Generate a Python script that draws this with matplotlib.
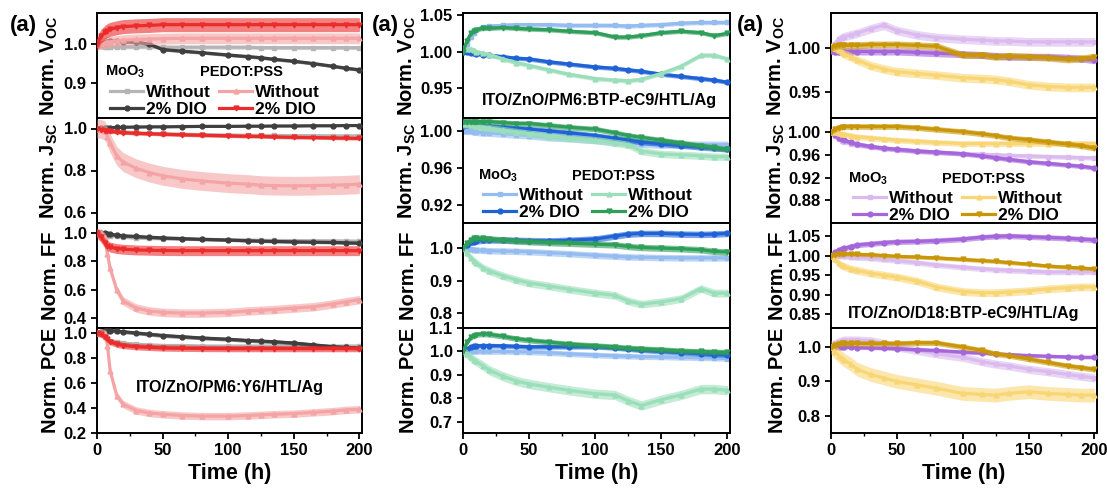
import matplotlib.pyplot as plt
from matplotlib.ticker import FormatStrFormatter, MultipleLocator

plt.rcParams['font.family'] = ['Liberation Sans', 'DejaVu Sans']
plt.rcParams['font.weight'] = 'bold'
plt.rcParams['axes.labelweight'] = 'bold'
plt.rcParams['mathtext.fontset'] = 'custom'
plt.rcParams['mathtext.rm'] = 'Liberation Sans:bold'
plt.rcParams['mathtext.it'] = 'Liberation Sans:bold'
plt.rcParams['mathtext.bf'] = 'Liberation Sans:bold'

# sampled time points (h)
hours = [0, 3, 6, 8, 10, 15, 20, 30, 40, 50, 65, 80, 100, 115, 125, 135, 150, 165, 180, 190, 200]

# ---- ITO/ZnO/PM6:Y6/HTL/Ag ----
y6_voc_moo3_wo = [1.0, 0.995, 0.993, 0.993, 0.993, 0.993, 0.993, 0.993, 0.993, 0.992, 0.992, 0.992, 0.992, 0.992, 0.991, 0.991, 0.991, 0.991, 0.991, 0.991, 0.991]
y6_voc_moo3_dio = [1.0, 1.0, 1.003, 1.005, 1.007, 1.008, 1.006, 1.005, 1.0, 0.986, 0.982, 0.978, 0.972, 0.968, 0.965, 0.961, 0.956, 0.950, 0.943, 0.938, 0.934]
y6_voc_pedot_wo = [1.0, 1.0, 1.003, 1.005, 1.006, 1.008, 1.01, 1.012, 1.013, 1.014, 1.015, 1.015, 1.015, 1.015, 1.015, 1.015, 1.015, 1.015, 1.015, 1.015, 1.015]
y6_voc_pedot_dio = [1.0, 1.02, 1.03, 1.035, 1.038, 1.042, 1.045, 1.047, 1.048, 1.05, 1.05, 1.05, 1.05, 1.05, 1.05, 1.05, 1.05, 1.05, 1.05, 1.05, 1.05]
y6_voc_err = [0.005, 0.004, 0.014, 0.018]

y6_jsc_moo3_wo = [1.0, 0.998, 0.995, 0.993, 0.99, 0.987, 0.984, 0.98, 0.977, 0.975, 0.973, 0.971, 0.969, 0.968, 0.967, 0.967, 0.966, 0.966, 0.965, 0.965, 0.965]
y6_jsc_moo3_dio = [1.0, 1.002, 1.003, 1.004, 1.004, 1.005, 1.006, 1.007, 1.008, 1.008, 1.009, 1.01, 1.01, 1.011, 1.011, 1.012, 1.012, 1.013, 1.013, 1.014, 1.014]
y6_jsc_pedot_wo = [1.0, 0.998, 0.99, 0.96, 0.93, 0.87, 0.84, 0.81, 0.79, 0.775, 0.76, 0.75, 0.74, 0.735, 0.73, 0.728, 0.727, 0.728, 0.73, 0.732, 0.735]
y6_jsc_pedot_dio = [1.0, 0.995, 0.99, 0.988, 0.986, 0.983, 0.98, 0.977, 0.975, 0.973, 0.97, 0.968, 0.965, 0.963, 0.962, 0.96, 0.958, 0.957, 0.955, 0.954, 0.953]
y6_jsc_err = [0.005, 0.004, 0.045, 0.008]

y6_ff_moo3_wo = [1.0, 0.995, 0.99, 0.985, 0.98, 0.975, 0.97, 0.965, 0.962, 0.96, 0.957, 0.955, 0.952, 0.95, 0.948, 0.947, 0.946, 0.945, 0.944, 0.943, 0.942]
y6_ff_moo3_dio = [1.0, 1.0, 0.998, 0.995, 0.99, 0.985, 0.98, 0.975, 0.97, 0.965, 0.96, 0.955, 0.95, 0.945, 0.942, 0.94, 0.937, 0.935, 0.933, 0.93, 0.928]
y6_ff_pedot_wo = [1.0, 1.0, 0.97, 0.85, 0.75, 0.6, 0.52, 0.47, 0.45, 0.44, 0.435, 0.435, 0.44, 0.45, 0.455, 0.46, 0.47, 0.48, 0.5, 0.515, 0.53]
y6_ff_pedot_dio = [1.0, 0.97, 0.93, 0.91, 0.9, 0.89, 0.885, 0.88, 0.878, 0.876, 0.875, 0.875, 0.875, 0.875, 0.875, 0.875, 0.875, 0.875, 0.875, 0.875, 0.875]
y6_ff_err = [0.01, 0.01, 0.03, 0.035]

y6_pce_moo3_wo = [1.0, 0.99, 0.97, 0.95, 0.94, 0.93, 0.92, 0.91, 0.905, 0.9, 0.9, 0.895, 0.895, 0.895, 0.895, 0.895, 0.895, 0.895, 0.895, 0.895, 0.895]
y6_pce_moo3_dio = [1.0, 1.01, 1.02, 1.02, 1.02, 1.015, 1.01, 1.0, 0.99, 0.98, 0.97, 0.96, 0.95, 0.94, 0.935, 0.93, 0.92, 0.905, 0.89, 0.885, 0.88]
y6_pce_pedot_wo = [1.0, 1.0, 1.0, 0.9, 0.7, 0.5, 0.43, 0.38, 0.36, 0.35, 0.34, 0.335, 0.335, 0.34, 0.345, 0.35, 0.355, 0.365, 0.375, 0.385, 0.39]
y6_pce_pedot_dio = [1.0, 0.99, 0.97, 0.95, 0.93, 0.91, 0.9, 0.89, 0.885, 0.88, 0.878, 0.876, 0.875, 0.875, 0.875, 0.875, 0.875, 0.875, 0.875, 0.875, 0.875]
y6_pce_err = [0.015, 0.015, 0.03, 0.025]

# ---- ITO/ZnO/PM6:BTP-eC9/HTL/Ag ----
ec9_voc_moo3_wo = [1.0, 1.01, 1.02, 1.025, 1.03, 1.034, 1.035, 1.036, 1.037, 1.037, 1.037, 1.036, 1.036, 1.036, 1.035, 1.036, 1.037, 1.039, 1.04, 1.04, 1.04]
ec9_voc_moo3_dio = [1.0, 0.999, 0.998, 0.998, 0.997, 0.996, 0.995, 0.993, 0.991, 0.99, 0.986, 0.983, 0.979, 0.977, 0.975, 0.973, 0.969, 0.966, 0.963, 0.961, 0.958]
ec9_voc_pedot_wo = [1.005, 1.004, 1.003, 1.002, 1.0, 0.998, 0.996, 0.99, 0.985, 0.981, 0.975, 0.969, 0.963, 0.961, 0.96, 0.962, 0.97, 0.98, 0.995, 0.995, 0.99]
ec9_voc_pedot_dio = [1.0, 1.015, 1.025, 1.028, 1.03, 1.032, 1.032, 1.033, 1.032, 1.031, 1.03, 1.028, 1.026, 1.02, 1.02, 1.022, 1.026, 1.028, 1.026, 1.022, 1.025]
ec9_voc_err = [0.003, 0.003, 0.003, 0.003]

ec9_jsc_moo3_wo = [1.0, 1.0, 1.0, 0.999, 0.999, 0.998, 0.998, 0.997, 0.996, 0.995, 0.993, 0.992, 0.99, 0.988, 0.987, 0.986, 0.985, 0.985, 0.985, 0.985, 0.985]
ec9_jsc_moo3_dio = [1.005, 1.006, 1.006, 1.006, 1.006, 1.006, 1.005, 1.004, 1.003, 1.002, 1.0, 0.998, 0.995, 0.992, 0.99, 0.988, 0.986, 0.984, 0.982, 0.981, 0.98]
ec9_jsc_pedot_wo = [1.007, 1.007, 1.006, 1.006, 1.005, 1.004, 1.003, 1.001, 0.999, 0.997, 0.994, 0.992, 0.99, 0.987, 0.985, 0.978, 0.975, 0.974, 0.973, 0.972, 0.972]
ec9_jsc_pedot_dio = [1.01, 1.01, 1.01, 1.01, 1.01, 1.01, 1.01, 1.009, 1.008, 1.008, 1.006, 1.004, 1.002, 0.998, 0.995, 0.993, 0.99, 0.987, 0.984, 0.982, 0.98]
ec9_jsc_err = [0.004, 0.003, 0.004, 0.003]

ec9_ff_moo3_wo = [1.0, 0.998, 0.996, 0.995, 0.994, 0.993, 0.992, 0.991, 0.99, 0.989, 0.986, 0.983, 0.978, 0.975, 0.973, 0.972, 0.971, 0.97, 0.97, 0.97, 0.97]
ec9_ff_moo3_dio = [1.0, 1.01, 1.018, 1.02, 1.022, 1.024, 1.025, 1.025, 1.024, 1.023, 1.022, 1.024, 1.028, 1.037, 1.043, 1.045, 1.045, 1.043, 1.042, 1.043, 1.045]
ec9_ff_pedot_wo = [1.0, 0.985, 0.97, 0.962, 0.955, 0.94, 0.93, 0.915, 0.903, 0.893, 0.884, 0.874, 0.862, 0.855, 0.838, 0.828, 0.835, 0.845, 0.876, 0.862, 0.862]
ec9_ff_pedot_dio = [1.0, 1.015, 1.025, 1.03, 1.03, 1.03, 1.028, 1.025, 1.022, 1.02, 1.017, 1.015, 1.012, 1.01, 1.005, 1.002, 1.0, 0.998, 0.995, 0.99, 0.988]
ec9_ff_err = [0.01, 0.01, 0.012, 0.01]

ec9_pce_moo3_wo = [1.0, 1.0, 1.0, 1.0, 1.0, 1.0, 1.0, 1.0, 0.999, 0.998, 0.995, 0.99, 0.985, 0.982, 0.98, 0.978, 0.977, 0.975, 0.973, 0.972, 0.97]
ec9_pce_moo3_dio = [1.0, 1.01, 1.02, 1.022, 1.024, 1.025, 1.025, 1.024, 1.022, 1.02, 1.02, 1.02, 1.02, 1.015, 1.01, 1.005, 1.0, 0.995, 0.99, 0.987, 0.985]
ec9_pce_pedot_wo = [1.0, 0.99, 0.975, 0.965, 0.958, 0.94, 0.92, 0.895, 0.875, 0.862, 0.848, 0.835, 0.82, 0.815, 0.79, 0.77, 0.795, 0.815, 0.84, 0.84, 0.835]
ec9_pce_pedot_dio = [1.0, 1.04, 1.06, 1.068, 1.072, 1.075, 1.073, 1.065, 1.055, 1.048, 1.04, 1.032, 1.025, 1.02, 1.015, 1.012, 1.008, 1.003, 1.0, 0.998, 0.997]
ec9_pce_err = [0.012, 0.01, 0.02, 0.012]

# ---- ITO/ZnO/D18:BTP-eC9/HTL/Ag ----
d18_voc_moo3_wo = [1.0, 1.005, 1.01, 1.012, 1.013, 1.015, 1.017, 1.022, 1.026, 1.02, 1.015, 1.012, 1.01, 1.009, 1.008, 1.008, 1.007, 1.007, 1.007, 1.007, 1.007]
d18_voc_moo3_dio = [0.997, 0.996, 0.996, 0.996, 0.996, 0.996, 0.996, 0.996, 0.996, 0.996, 0.995, 0.994, 0.993, 0.992, 0.991, 0.99, 0.99, 0.99, 0.989, 0.988, 0.986]
d18_voc_pedot_wo = [1.002, 1.0, 0.998, 0.995, 0.993, 0.99, 0.986, 0.98, 0.976, 0.973, 0.971, 0.969, 0.966, 0.965, 0.964, 0.962, 0.958, 0.956, 0.955, 0.955, 0.955]
d18_voc_pedot_dio = [1.0, 1.002, 1.003, 1.003, 1.003, 1.003, 1.003, 1.004, 1.004, 1.004, 1.003, 1.002, 0.992, 0.992, 0.99, 0.991, 0.99, 0.989, 0.987, 0.988, 0.99]
d18_voc_err = [0.005, 0.004, 0.005, 0.004]

d18_jsc_moo3_wo = [1.0, 0.993, 0.988, 0.985, 0.983, 0.98, 0.977, 0.974, 0.971, 0.969, 0.966, 0.964, 0.962, 0.961, 0.96, 0.959, 0.958, 0.957, 0.956, 0.955, 0.955]
d18_jsc_moo3_dio = [1.0, 0.995, 0.99, 0.988, 0.986, 0.982, 0.979, 0.975, 0.972, 0.97, 0.967, 0.965, 0.962, 0.958, 0.955, 0.952, 0.948, 0.945, 0.942, 0.94, 0.937]
d18_jsc_pedot_wo = [1.0, 1.0, 0.998, 0.997, 0.996, 0.994, 0.992, 0.99, 0.988, 0.986, 0.984, 0.982, 0.98, 0.98, 0.98, 0.98, 0.98, 0.98, 0.98, 0.98, 0.98]
d18_jsc_pedot_dio = [1.0, 1.005, 1.008, 1.009, 1.01, 1.01, 1.01, 1.01, 1.01, 1.01, 1.008, 1.005, 1.001, 0.997, 0.994, 0.99, 0.987, 0.983, 0.979, 0.976, 0.972]
d18_jsc_err = [0.004, 0.004, 0.005, 0.005]

d18_ff_moo3_wo = [1.0, 1.0, 1.0, 1.0, 0.998, 0.996, 0.995, 0.993, 0.99, 0.987, 0.982, 0.976, 0.97, 0.966, 0.964, 0.962, 0.96, 0.958, 0.958, 0.958, 0.958]
d18_ff_moo3_dio = [1.0, 1.008, 1.013, 1.016, 1.018, 1.023, 1.027, 1.03, 1.033, 1.035, 1.036, 1.038, 1.042, 1.047, 1.049, 1.05, 1.048, 1.046, 1.044, 1.042, 1.04]
d18_ff_pedot_wo = [1.0, 0.99, 0.98, 0.975, 0.972, 0.966, 0.962, 0.955, 0.95, 0.945, 0.935, 0.92, 0.908, 0.905, 0.905, 0.907, 0.91, 0.915, 0.918, 0.92, 0.92]
d18_ff_pedot_dio = [1.0, 1.002, 1.003, 1.004, 1.004, 1.004, 1.003, 1.002, 1.0, 0.998, 0.996, 0.994, 0.99, 0.987, 0.985, 0.982, 0.978, 0.973, 0.97, 0.968, 0.966]
d18_ff_err = [0.007, 0.007, 0.01, 0.005]

d18_pce_moo3_wo = [1.0, 1.01, 1.015, 1.018, 1.02, 1.02, 1.02, 1.018, 1.01, 1.0, 0.99, 0.98, 0.97, 0.957, 0.95, 0.945, 0.935, 0.928, 0.92, 0.915, 0.91]
d18_pce_moo3_dio = [1.0, 1.0, 1.0, 1.0, 1.0, 0.999, 0.998, 0.997, 0.996, 0.995, 0.992, 0.99, 0.985, 0.982, 0.98, 0.978, 0.975, 0.973, 0.971, 0.97, 0.97]
d18_pce_pedot_wo = [1.0, 0.985, 0.975, 0.968, 0.962, 0.95, 0.935, 0.92, 0.91, 0.9, 0.89, 0.88, 0.865, 0.862, 0.86, 0.865, 0.87, 0.865, 0.862, 0.86, 0.86]
d18_pce_pedot_dio = [1.0, 1.005, 1.008, 1.01, 1.01, 1.01, 1.01, 1.01, 1.01, 1.01, 1.012, 1.012, 1.0, 0.99, 0.98, 0.975, 0.965, 0.955, 0.945, 0.94, 0.935]
d18_pce_err = [0.012, 0.005, 0.02, 0.008]

series_labels = ['Without', '2% DIO', 'Without', '2% DIO']
markers = ['s', 'o', '^', 'v']
ylabels = ['Norm. V$_{OC}$', 'Norm. J$_{SC}$', 'Norm. FF', 'Norm. PCE']

y6_colors = ['#b5b5b5', '#3f3f3f', '#f4a4a4', '#ec2b2b']
ec9_colors = ['#94bcf0', '#1f62d6', '#9bdfba', '#2e9e5a']
d18_colors = ['#dbbbef', '#a566dc', '#f9d675', '#c99608']

y6_panels = [
    ([y6_voc_moo3_wo, y6_voc_moo3_dio, y6_voc_pedot_wo, y6_voc_pedot_dio], y6_voc_err),
    ([y6_jsc_moo3_wo, y6_jsc_moo3_dio, y6_jsc_pedot_wo, y6_jsc_pedot_dio], y6_jsc_err),
    ([y6_ff_moo3_wo, y6_ff_moo3_dio, y6_ff_pedot_wo, y6_ff_pedot_dio], y6_ff_err),
    ([y6_pce_moo3_wo, y6_pce_moo3_dio, y6_pce_pedot_wo, y6_pce_pedot_dio], y6_pce_err),
]
ec9_panels = [
    ([ec9_voc_moo3_wo, ec9_voc_moo3_dio, ec9_voc_pedot_wo, ec9_voc_pedot_dio], ec9_voc_err),
    ([ec9_jsc_moo3_wo, ec9_jsc_moo3_dio, ec9_jsc_pedot_wo, ec9_jsc_pedot_dio], ec9_jsc_err),
    ([ec9_ff_moo3_wo, ec9_ff_moo3_dio, ec9_ff_pedot_wo, ec9_ff_pedot_dio], ec9_ff_err),
    ([ec9_pce_moo3_wo, ec9_pce_moo3_dio, ec9_pce_pedot_wo, ec9_pce_pedot_dio], ec9_pce_err),
]
d18_panels = [
    ([d18_voc_moo3_wo, d18_voc_moo3_dio, d18_voc_pedot_wo, d18_voc_pedot_dio], d18_voc_err),
    ([d18_jsc_moo3_wo, d18_jsc_moo3_dio, d18_jsc_pedot_wo, d18_jsc_pedot_dio], d18_jsc_err),
    ([d18_ff_moo3_wo, d18_ff_moo3_dio, d18_ff_pedot_wo, d18_ff_pedot_dio], d18_ff_err),
    ([d18_pce_moo3_wo, d18_pce_moo3_dio, d18_pce_pedot_wo, d18_pce_pedot_dio], d18_pce_err),
]

W, H = 1107, 488
fig = plt.figure(figsize=(W / 100, H / 100), dpi=100)

columns = [
    dict(left=97, width=265, panels=y6_panels, colors=y6_colors,
         ylims=[(0.81, 1.08), (0.55, 1.05), (0.33, 1.07), (0.2, 1.04)],
         yticks=[[0.9, 1.0], [0.6, 0.8, 1.0], [0.4, 0.6, 0.8, 1.0], [0.2, 0.4, 0.6, 0.8, 1.0]],
         fmts=['%.1f', '%.1f', '%.1f', '%.1f'], ylab_x=-0.14,
         leg_panel=0, head_xy=(0.03, 0.44), head2_x=0.39, leg_y=-0.09,
         struct='ITO/ZnO/PM6:Y6/HTL/Ag', struct_panel=3, struct_xy=(0.5, 0.43), tag_x=10),
    dict(left=463, width=267, panels=ec9_panels, colors=ec9_colors,
         ylims=[(0.909, 1.053), (0.90, 1.014), (0.755, 1.077), (0.653, 1.1)],
         yticks=[[0.95, 1.00, 1.05], [0.92, 0.96, 1.00], [0.8, 0.9, 1.0], [0.7, 0.8, 0.9, 1.0, 1.1]],
         fmts=['%.2f', '%.2f', '%.1f', '%.1f'], ylab_x=-0.17,
         leg_panel=1, head_xy=(0.056, 0.45), head2_x=0.41, leg_y=-0.07,
         struct='ITO/ZnO/PM6:BTP-eC9/HTL/Ag', struct_panel=0, struct_xy=(0.51, 0.17), tag_x=372),
    dict(left=831, width=266, panels=d18_panels, colors=d18_colors,
         ylims=[(0.92, 1.04), (0.84, 1.025), (0.815, 1.083), (0.75, 1.055)],
         yticks=[[0.95, 1.00], [0.88, 0.92, 0.96, 1.00], [0.85, 0.90, 0.95, 1.00, 1.05], [0.8, 0.9, 1.0]],
         fmts=['%.2f', '%.2f', '%.2f', '%.1f'], ylab_x=-0.165,
         leg_panel=1, head_xy=(0.064, 0.42), head2_x=0.417, leg_y=-0.1,
         struct='ITO/ZnO/D18:BTP-eC9/HTL/Ag', struct_panel=2, struct_xy=(0.5, 0.135), tag_x=737),
]

top_px, panel_h = 13, 105

for col in columns:
    for i, (series, errs) in enumerate(col['panels']):
        y0 = top_px + panel_h * (i + 1)
        ax = fig.add_axes([col['left'] / W, 1 - y0 / H, col['width'] / W, panel_h / H])
        handles = []
        for k, vals in enumerate(series):
            lo = [v - errs[k] for v in vals]
            hi = [v + errs[k] for v in vals]
            ax.fill_between(hours, lo, hi, color=col['colors'][k], alpha=0.6, lw=0, zorder=2 + k)
            h, = ax.plot(hours, vals, color=col['colors'][k], lw=2.3, marker=markers[k],
                         ms=3.5, zorder=2 + k, label=series_labels[k])
            handles.append(h)
        ax.set_xlim(0, 202)
        ax.set_ylim(*col['ylims'][i])
        ax.set_yticks(col['yticks'][i])
        ax.yaxis.set_major_formatter(FormatStrFormatter(col['fmts'][i]))
        ax.set_ylabel(ylabels[i], fontsize=14.5, fontweight='bold')
        ax.yaxis.set_label_coords(col['ylab_x'], 0.5)
        for sp in ax.spines.values():
            sp.set_linewidth(1.4)
        ax.tick_params(axis='y', direction='out', length=4, width=1.3, labelsize=12)
        if i < 3:
            ax.tick_params(axis='x', bottom=False, labelbottom=False)
        else:
            ax.set_xticks([0, 50, 100, 150, 200])
            ax.xaxis.set_minor_locator(MultipleLocator(25))
            ax.tick_params(axis='x', which='major', direction='out', length=4, width=1.3, labelsize=12)
            ax.tick_params(axis='x', which='minor', direction='out', length=2.5, width=1.0)
            ax.set_xlabel('Time (h)', fontsize=15.5, fontweight='bold')
            ax.xaxis.set_label_coords(0.5, -0.29)
        for lab in ax.get_xticklabels() + ax.get_yticklabels():
            lab.set_fontweight('bold')

        if i == col['leg_panel']:
            hx, hy = col['head_xy']
            ax.text(hx, hy, 'MoO$_3$', transform=ax.transAxes, fontsize=10.5, fontweight='bold',
                    va='center', ha='left', zorder=10)
            ax.text(col['head2_x'], hy, 'PEDOT:PSS', transform=ax.transAxes, fontsize=10.5,
                    fontweight='bold', va='center', ha='left', zorder=10)
            ax.legend(handles, series_labels, ncol=2, frameon=False, loc='lower left',
                      bbox_to_anchor=(hx - 0.02, col['leg_y']), handlelength=1.9,
                      handletextpad=0.15, columnspacing=0.5, labelspacing=0.12, borderpad=0.1,
                      prop={'weight': 'bold', 'size': 12.5})
        if i == col['struct_panel']:
            sx, sy = col['struct_xy']
            ax.text(sx, sy, col['struct'], transform=ax.transAxes, fontsize=11.6,
                    fontweight='bold', ha='center', va='center', zorder=10)

    fig.text(col['tag_x'] / W, 1 - 25 / H, '(a)', fontsize=16, fontweight='bold',
             ha='left', va='center')

fig.savefig('out.png', dpi=100)
